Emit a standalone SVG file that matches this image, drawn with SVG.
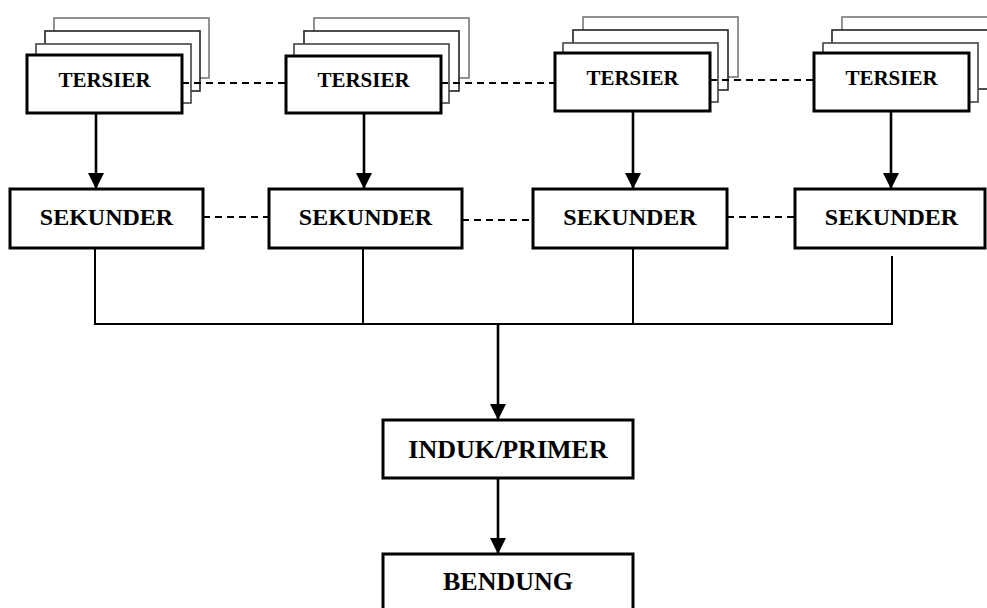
<svg xmlns="http://www.w3.org/2000/svg" width="987" height="608" viewBox="0 0 987 608">
  <defs>
    <marker id="head" markerUnits="userSpaceOnUse" markerWidth="16" markerHeight="16" viewBox="0 0 16 16" refX="16" refY="8" orient="auto">
      <path d="M0,0 L16,8 L0,16 z" fill="#000"/>
    </marker>
    <style>
      .box { fill: #fff; stroke: #000; stroke-width: 3; }
      .l2 { fill: #fff; stroke: #444; stroke-width: 1.6; }
      .l3 { fill: #fff; stroke: #222; stroke-width: 1.6; }
      .l4 { fill: #fff; stroke: #777; stroke-width: 1.6; }
      .lbl { font-family: "Liberation Serif", "Times New Roman", serif; font-weight: bold; fill: #000; text-anchor: middle; }
      .t { font-size: 21px; }
      .s { font-size: 24px; }
      .p { font-size: 26px; }
      .arrow { stroke: #000; stroke-width: 2.6; fill: none; marker-end: url(#head); }
      .dash { stroke: #000; stroke-width: 2; stroke-dasharray: 7 5; fill: none; }
      .join { stroke: #000; stroke-width: 2; fill: none; }
    </style>
  </defs>
  <rect width="987" height="608" fill="#fff"/>

  <!-- tertiary blocks: stacked sheets behind a front box -->
  <g id="tersier-1">
    <rect class="l4" x="54" y="18" width="155" height="60"/>
    <rect class="l3" x="45" y="31" width="155" height="60"/>
    <rect class="l2" x="36" y="44" width="155" height="59"/>
    <rect class="box" x="27" y="55" width="155" height="58"/>
    <text class="lbl t" x="104.5" y="87">TERSIER</text>
  </g>
  <g id="tersier-2">
    <rect class="l4" x="314" y="18" width="155" height="60"/>
    <rect class="l3" x="304" y="31" width="155" height="60"/>
    <rect class="l2" x="294" y="44" width="155" height="59"/>
    <rect class="box" x="286" y="56" width="155" height="57"/>
    <text class="lbl t" x="363.5" y="87">TERSIER</text>
  </g>
  <g id="tersier-3">
    <rect class="l4" x="583" y="17" width="155" height="60"/>
    <rect class="l3" x="573" y="30" width="155" height="60"/>
    <rect class="l2" x="563" y="43" width="155" height="59"/>
    <rect class="box" x="555" y="53" width="155" height="58"/>
    <text class="lbl t" x="632.5" y="85">TERSIER</text>
  </g>
  <g id="tersier-4">
    <rect class="l4" x="842" y="17" width="155" height="60"/>
    <rect class="l3" x="832" y="30" width="160" height="59"/>
    <rect class="l2" x="823" y="43" width="155" height="59"/>
    <rect class="box" x="814" y="53" width="155" height="58"/>
    <text class="lbl t" x="891.5" y="85">TERSIER</text>
  </g>

  <!-- secondary blocks -->
  <g id="sekunder-1">
    <rect class="box" x="10" y="189" width="193" height="59"/>
    <text class="lbl s" x="106.5" y="225">SEKUNDER</text>
  </g>
  <g id="sekunder-2">
    <rect class="box" x="269" y="189" width="193" height="59"/>
    <text class="lbl s" x="365.5" y="225">SEKUNDER</text>
  </g>
  <g id="sekunder-3">
    <rect class="box" x="533" y="189" width="194" height="59"/>
    <text class="lbl s" x="630" y="225">SEKUNDER</text>
  </g>
  <g id="sekunder-4">
    <rect class="box" x="795" y="189" width="190" height="59"/>
    <text class="lbl s" x="891.5" y="225">SEKUNDER</text>
  </g>

  <!-- main canal and weir -->
  <g id="induk">
    <rect class="box" x="383" y="420" width="250" height="58"/>
    <text class="lbl p" x="508" y="458">INDUK/PRIMER</text>
  </g>
  <g id="bendung">
    <rect class="box" x="383" y="554" width="250" height="70"/>
    <text class="lbl p" x="508" y="590">BENDUNG</text>
  </g>

  <!-- connectors -->
  <g id="connectors">
    <line class="dash" x1="182" y1="83" x2="286" y2="83"/>
    <line class="dash" x1="441" y1="83" x2="555" y2="83"/>
    <line class="dash" x1="710" y1="80" x2="814" y2="80"/>

    <line class="arrow" x1="96" y1="113" x2="96" y2="189"/>
    <line class="arrow" x1="364" y1="113" x2="364" y2="189"/>
    <line class="arrow" x1="633" y1="111" x2="633" y2="189"/>
    <line class="arrow" x1="891" y1="111" x2="891" y2="189"/>

    <line class="dash" x1="203" y1="217" x2="269" y2="217"/>
    <line class="dash" x1="462" y1="220" x2="533" y2="220"/>
    <line class="dash" x1="727" y1="217" x2="795" y2="217"/>

    <path class="join" d="M95,248 V324 H892 V256 M363,248 V324 M633,248 V324"/>

    <line class="arrow" x1="498" y1="324" x2="498" y2="420"/>
    <line class="arrow" x1="498" y1="478" x2="498" y2="554"/>
  </g>
</svg>
